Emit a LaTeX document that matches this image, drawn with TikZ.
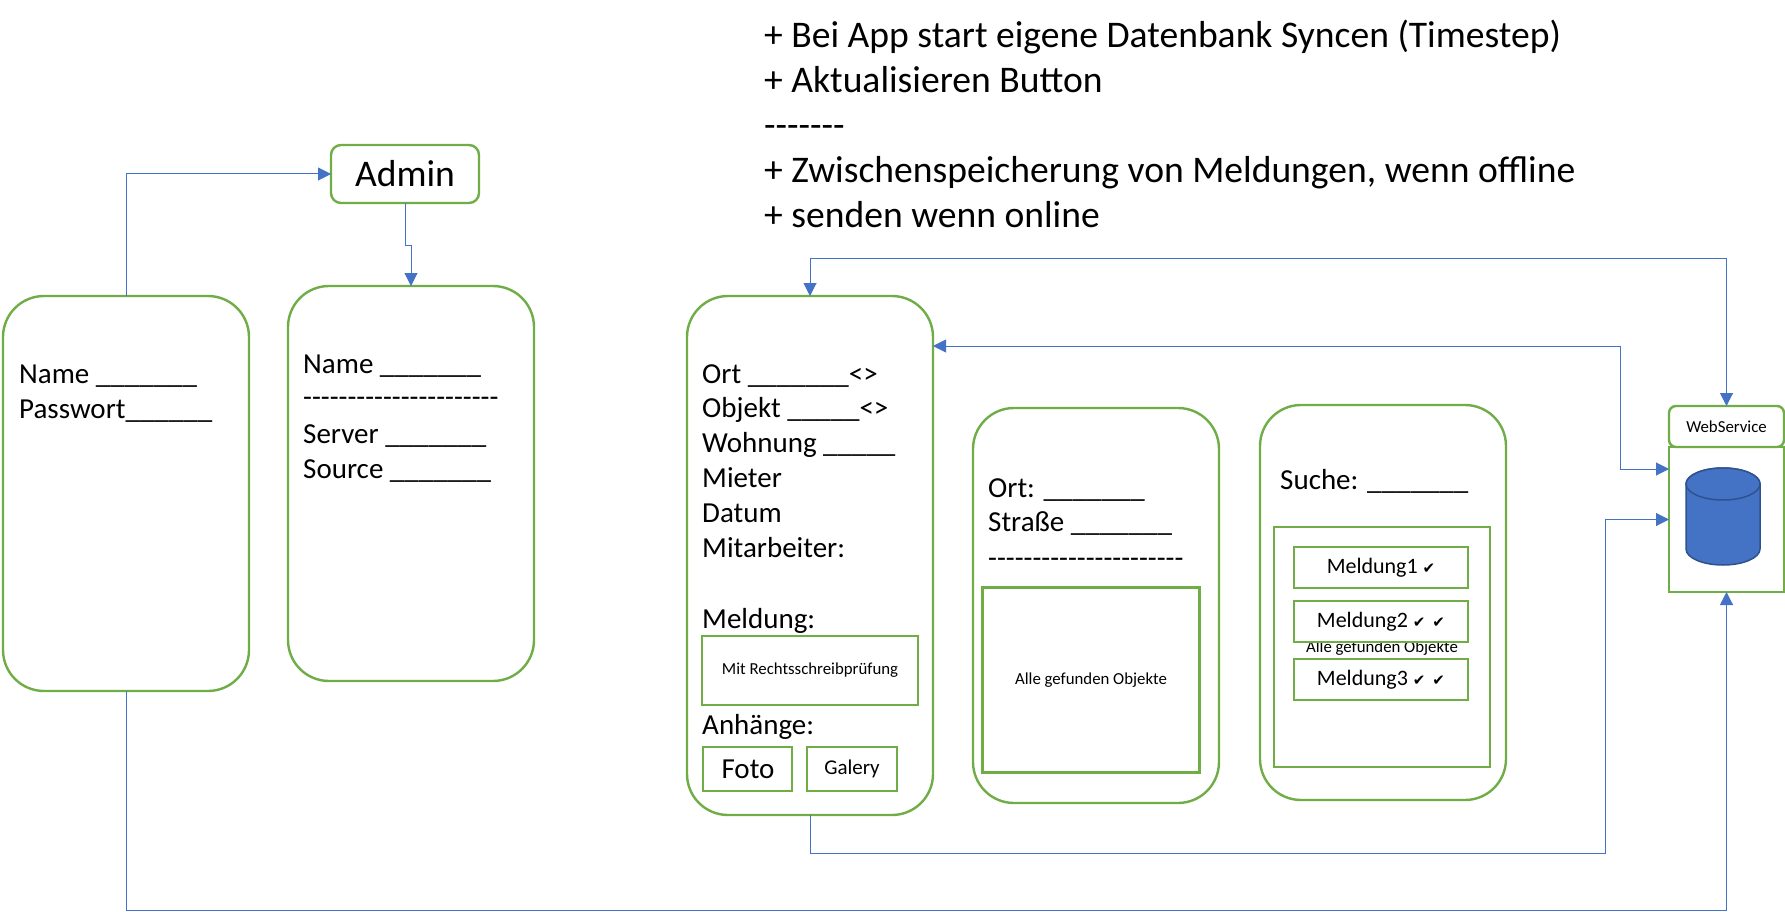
\documentclass[tikz,border=0pt]{standalone}
\usepackage{fontspec}
\setmainfont{Carlito}
\newfontfamily\symfont{DejaVu Sans}
\usetikzlibrary{arrows.meta}
\definecolor{grn}{HTML}{70AD47}
\definecolor{blu}{HTML}{4472C4}
\definecolor{bludk}{HTML}{2F528F}
\newcommand\rep[2]{\foreach \i in {1,...,#1}{#2}}
\newcommand\ck{{\symfont\fontsize{15}{15}\selectfont ✔}}
\newcommand\dn[2]{\raisebox{-#1pt}{#2}}
\tikzset{
  phone/.style={draw=grn,line width=2.4pt,rounded corners=41pt,fill=white,inner sep=0pt,outer sep=0pt},
  box/.style={draw=grn,line width=2.4pt,fill=white,inner sep=0pt,outer sep=0pt,align=center},
  label/.style={anchor=base west,inner sep=0pt,font=\fontsize{29}{35}\selectfont},
  note/.style={anchor=base west,inner sep=0pt,font=\fontsize{37.6}{45}\selectfont},
  small/.style={font=\fontsize{16.8}{20}\selectfont},
  conn/.style={draw=blu,line width=1pt},
  tip/.style={-{Triangle[length=13pt,width=13pt]}},
  tips/.style={{Triangle[length=13pt,width=13pt]}-{Triangle[length=13pt,width=13pt]}}
}
\begin{document}
\begin{tikzpicture}[x=1pt,y=-1pt]
\useasboundingbox (0,0) rectangle (1785,912);
% notes
\node[note] (n1) at (764,48) {+ Bei App start eigene Datenbank Syncen (Timestep)};
\node[note] (n2) at (764,93) {+ Aktualisieren Button};
\node[note] (n3) at (764,138) {\rep{7}{-{}}};
\node[note] (n4) at (764,183) {+ Zwischenspeicherung von Meldungen, wenn offline};
\node[note] (n5) at (764,228) {+ senden wenn online};
% screens
\node[phone,minimum width=246pt,minimum height=395pt] (login) at (126,493.5) {};
\node[phone,minimum width=246pt,minimum height=395pt] (setup) at (411,483.5) {};
\node[box,rounded corners=10pt,minimum width=148pt,minimum height=58pt,font=\fontsize{37.6}{45}\selectfont] (admin) at (405,174) {Admin};
\node[phone,minimum width=246pt,minimum height=519pt] (form) at (810,555.5) {};
\node[phone,minimum width=246pt,minimum height=395pt] (objs) at (1096,605.5) {};
\node[phone,minimum width=246pt,minimum height=395pt] (srch) at (1383,602.5) {};
% login text
\node[label] (l1) at (19,383) {Name \rep{7}{\_}};
\node[label] (l2) at (19,418) {Passwort\rep{6}{\_}};
% setup text
\node[label] (s1) at (303,373) {Name \rep{7}{\_}};
\node[label] (s2) at (303,406) {\rep{22}{-{}}};
\node[label] (s3) at (303,443) {Server \rep{7}{\_}};
\node[label] (s4) at (303,478) {Source \rep{7}{\_}};
% form text
\node[label] (f1) at (702,383) {Ort \rep{7}{\_}<>};
\node[label] (f2) at (702,417) {Objekt \rep{5}{\_}<>};
\node[label] (f3) at (702,452) {Wohnung \rep{5}{\_}};
\node[label] (f4) at (702,487) {Mieter};
\node[label] (f5) at (702,522) {Datum};
\node[label] (f6) at (702,557) {Mitarbeiter:};
\node[label] (f7) at (702,628) {Meldung:};
\node[box,small,minimum width=216pt,minimum height=69pt] (spell) at (810,670.5) {\dn{2}{Mit Rechtsschreibprüfung}};
\node[label] (f8) at (702,734) {Anhänge:};
\node[box,minimum width=89pt,minimum height=44pt,font=\fontsize{29}{35}\selectfont] (foto) at (747.5,769) {\dn{2}{\hspace{1pt}Foto}};
\node[box,minimum width=90pt,minimum height=44pt,font=\fontsize{21}{25}\selectfont] (galery) at (852,769) {\dn{2}{Galery}};
% object search
\node[label] (o1) at (988,497) {Ort: \rep{7}{\_}};
\node[label] (o2) at (988,531) {Straße \rep{7}{\_}};
\node[label] (o3) at (988,567) {\rep{22}{-{}}};
\node[box,small,minimum width=217pt,minimum height=185pt] (res) at (1091,680) {\dn{2}{Alle gefunden Objekte}};
% message search
\node[label] (m0) at (1280,489) {Suche: \rep{7}{\_}};
\node[box,small,minimum width=216pt,minimum height=240pt] (list) at (1382,647) {};
\node[small,inner sep=0pt] (allobj) at (1382,648) {Alle gefunden Objekte};
\node[box,minimum width=174pt,minimum height=41pt,font=\fontsize{22}{26}\selectfont] (m1) at (1381,567.5) {\dn{2}{Meldung1 \ck}};
\node[box,minimum width=174pt,minimum height=41pt,font=\fontsize{22}{26}\selectfont] (m2) at (1381,621.5) {\dn{1}{Meldung2 \ck\hspace{7pt}\ck}};
\node[box,minimum width=174pt,minimum height=41pt,font=\fontsize{22}{26}\selectfont] (m3) at (1381,679.5) {\dn{1}{Meldung3 \ck\hspace{7pt}\ck}};
% web service
\node[box,minimum width=115pt,minimum height=145pt] (store) at (1726.5,519.5) {};
\node[box,small,rounded corners=7pt,minimum width=115pt,minimum height=41pt] (ws) at (1726.5,426.5) {\dn{1}{WebService}};
\draw[bludk,line width=1.5pt,fill=blu] (1686,484) -- (1686,549) arc[start angle=180,end angle=360,x radius=37,y radius=-16] -- (1760,484) arc[start angle=0,end angle=180,x radius=37,y radius=-16] -- cycle;
\draw[bludk,line width=1.5pt,fill=blu] (1723,484) ellipse[x radius=37,y radius=16];
% connectors
\coordinate (fr) at (933,346);
\coordinate (bend) at (1620,346);
\coordinate (sa) at (1669,469);
\coordinate (j) at (1605,853);
\draw[conn,tip] (login.north) |- (admin.west);
\draw[conn,tip] (admin.south) -- ++(0,42) -| (setup.north);
\draw[conn,tip] (login.south) -- ++(0,219) -| (store.south);
\draw[conn,tips] (form.north) -- ++(0,-38) -| (ws.north);
\draw[conn,tips] (fr) -- (bend) |- (sa);
\draw[conn,tip] (form.south) |- (j) |- (store.west);
\end{tikzpicture}
\end{document}
